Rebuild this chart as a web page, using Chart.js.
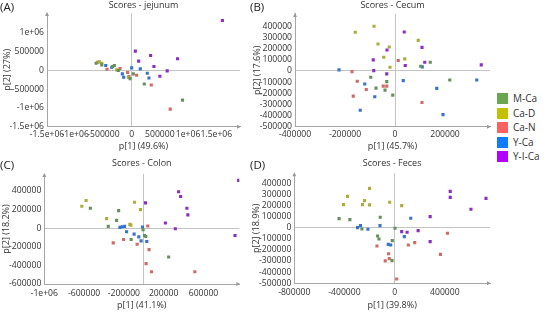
<!DOCTYPE html>
<html>
<head>
<meta charset="utf-8">
<script src="https://cdn.jsdelivr.net/npm/chart.js"></script>
<style>
body { margin: 0; background: #fff; font-family: "Open Sans", sans-serif; }
#wrap { position: relative; width: 546px; height: 312px; overflow: hidden; }
canvas { position: absolute; }
.tag { position: absolute; font-size: 11.5px; line-height: 13px; color: #222; }
.item { position: absolute; left: 497px; height: 11px; font-size: 10px; line-height: 11px; color: #333; white-space: nowrap; }
.sw { display: inline-block; width: 11px; height: 11px; vertical-align: top; margin-right: 5px; }
</style>
</head>
<body>
<div id="wrap">
	<canvas id="chartA" width="246" height="152" style="left:0px;top:0px"></canvas>
	<canvas id="chartB" width="244" height="152" style="left:250px;top:0px"></canvas>
	<canvas id="chartC" width="246" height="154" style="left:0px;top:158px"></canvas>
	<canvas id="chartD" width="244" height="154" style="left:250px;top:158px"></canvas>
	<div class="tag" style="left:0px;top:0px">(A)</div>
	<div class="tag" style="left:250px;top:0px">(B)</div>
	<div class="tag" style="left:0px;top:158px">(C)</div>
	<div class="tag" style="left:250px;top:158px">(D)</div>
	<div id="legend"></div>
</div>
<script>
var groups = ["M-Ca", "Ca-D", "Ca-N", "Y-Ca", "Y-I-Ca"];
var legendColors = ["#6aa64f", "#c3c000", "#fa6262", "#0f7bff", "#b300ff"];
var pointColors = ["#66905a", "#adac3a", "#d06a66", "#3772cc", "#8a2ec4"];

// jejunum scores [p1, p2]
var jejMCa = [[-630000,187000],[-530000,143000],[-336000,98000],[-306000,125000],[-236000,-9000],[-29000,-223000],[29000,-98000],[224000,-365000],[901000,-793000]];
var jejCaD = [[-601000,214000],[-571000,223000],[-530000,187000],[-265000,9000],[-59000,-187000]];
var jejCaN = [[-436000,27000],[-206000,45000],[-71000,-62000],[-47000,-169000],[88000,-134000],[348000,-392000],[683000,-1034000]];
var jejYCa = [[-459000,125000],[-353000,80000],[-165000,-98000],[-141000,-187000],[0,62000],[153000,36000],[277000,-80000],[306000,-205000]];
var jejYICa = [[65000,508000],[336000,392000],[124000,241000],[395000,98000],[813000,303000],[630000,-18000],[500000,-160000],[1608000,1319000]];

// cecum
var cecMCa = [[141000,78000],[103000,42000],[219000,-81000],[-97000,-57000],[-33000,-96000],[-76000,-154000],[-40000,-172000],[-9000,-217000]];
var cecCaD = [[-159000,346000],[-84000,400000],[-68000,241000],[-23000,214000],[-45000,123000],[-20000,33000],[39000,108000],[93000,274000]];
var cecCaN = [[13000,93000],[-172000,-6000],[-151000,-93000],[-115000,-166000],[-167000,-226000],[-47000,-136000],[-33000,-136000],[108000,-283000]];
var cecYCa = [[109000,36000],[327000,-81000],[167000,-157000],[192000,-392000],[33000,-87000],[-224000,9000],[-121000,-117000],[-139000,-352000],[-81000,-232000]];
var cecYICa = [[37000,349000],[108000,211000],[-32000,187000],[-87000,99000],[-85000,3000],[-33000,-27000],[119000,78000],[41000,48000],[345000,54000]];

// colon
var colMCa = [[-537000,213000],[-253000,187000],[-273000,83000],[-357000,18000],[-7000,-18000],[7000,-79000],[20000,-90000],[-127000,-123000],[250000,-310000]];
var colCaD = [[-623000,234000],[-580000,296000],[-373000,101000],[-93000,277000],[-33000,198000],[-140000,40000],[-130000,32000]];
var colCaN = [[40000,22000],[-203000,-123000],[-307000,-159000],[-67000,-173000],[53000,-231000],[23000,-382000],[77000,-469000],[513000,-469000]];
var colYCa = [[-240000,7000],[-217000,14000],[-193000,18000],[-173000,-40000],[-97000,-65000],[-50000,-94000],[-27000,-137000],[30000,-144000],[-13000,11000]];
var colYICa = [[17000,270000],[953000,512000],[350000,389000],[370000,339000],[433000,213000],[443000,141000],[217000,54000],[317000,-7000],[917000,-79000]];

// feces
var fecMCa = [[-443000,81000],[-357000,72000],[-115000,93000],[3000,-6000],[-261000,-12000],[-136000,-75000],[-125000,-102000],[-19000,-117000],[-21000,-296000]];
var fecCaD = [[-200000,353000],[-376000,281000],[-408000,207000],[-240000,243000],[-256000,207000],[-200000,204000],[-40000,228000],[56000,198000]];
var fecCaN = [[-141000,-165000],[-48000,-234000],[-43000,-278000],[-75000,-299000],[16000,-461000],[109000,-156000],[160000,-135000],[365000,-240000],[421000,-51000]];
var fecYCa = [[-296000,0],[-272000,18000],[-213000,-15000],[-117000,18000],[-51000,-150000],[-32000,-156000],[128000,84000],[77000,-81000]];
var fecYICa = [[443000,326000],[443000,272000],[728000,263000],[608000,165000],[283000,99000],[56000,-36000],[99000,-42000],[187000,-27000],[283000,-126000]];

// tick values
var jejXTicks = [-1500000,-1000000,-500000,0,500000,1000000,1500000];
var jejYTicks = [-1500000,-1000000,-500000,0,500000,1000000];
var cecXTicks = [-400000,-200000,0,200000];
var cecYTicks = [-500000,-400000,-300000,-200000,-100000,0,100000,200000,300000,400000];
var colXTicks = [-1000000,-600000,-200000,0,200000,600000];
var colYTicks = [-600000,-400000,-200000,0,200000,400000];
var fecXTicks = [-800000,-400000,0,400000];
var fecYTicks = [-500000,-400000,-300000,-200000,-100000,0,100000,200000,300000,400000];

function fmt(v) {
	if (Math.abs(v) >= 1000000) return (v / 1000000) + "e+06";
	return String(v);
}

var arrowPlugin = {
	id: "arrows",
	afterDraw: function(chart) {
		var a = chart.chartArea;
		var c = chart.ctx;
		c.save();
		c.fillStyle = "#999";
		c.beginPath();
		c.moveTo(a.left, a.top - 1);
		c.lineTo(a.left - 2, a.top + 3);
		c.lineTo(a.left + 2, a.top + 3);
		c.fill();
		c.beginPath();
		c.moveTo(a.right + 1, a.bottom);
		c.lineTo(a.right - 3, a.bottom - 2);
		c.lineTo(a.right - 3, a.bottom + 2);
		c.fill();
		c.restore();
	}
};

function makePanel(id, p) {
	var sets = [];
	for (var i = 0; i < groups.length; i++) {
		sets.push({
			label: groups[i],
			data: p.data[i].map(function(d){ return {x: d[0], y: d[1]}; }),
			pointStyle: "rect",
			pointRadius: 2.2,
			borderWidth: 0,
			backgroundColor: pointColors[i],
			borderColor: pointColors[i]
		});
	}
	var font = {family: "'Open Sans', sans-serif", size: 8.6};
	var zeroGrid = function(ctx) {
		return (ctx.tick && ctx.tick.value === 0) ? "#c4c4c4" : "rgba(0,0,0,0)";
	};
	new Chart(document.getElementById(id), {
		type: "scatter",
		data: {datasets: sets},
		plugins: [arrowPlugin],
		options: {
			responsive: false,
			animation: false,
			devicePixelRatio: 1,
			layout: {padding: {left: 0, right: p.padRight, top: 0, bottom: 0}},
			plugins: {
				legend: {display: false},
				tooltip: {enabled: false},
				title: {
					display: true,
					text: p.title,
					fullSize: false,
					color: "#333",
					font: {family: "'Open Sans', sans-serif", size: 9, weight: "normal"},
					padding: {top: 0.4, bottom: p.titleBottom}
				}
			},
			scales: {
				x: {
					type: "linear",
					min: p.xMin,
					max: p.xMax,
					afterBuildTicks: function(s){ s.ticks = p.xTicks.map(function(v){ return {value: v}; }); },
					afterFit: function(s){ s.height = p.xHeight; },
					ticks: {
						autoSkip: false, maxRotation: 0, minRotation: 0, padding: p.xTickPad,
						color: "#333", font: font,
						callback: function(v){ return (p.hideX0 && v === 0) ? "" : fmt(v); }
					},
					grid: {color: zeroGrid, drawTicks: false, lineWidth: 1},
					border: {color: "#a6a6a6", width: 1},
					title: {display: true, text: p.xTitle, color: "#333",
						font: {family: "'Open Sans', sans-serif", size: 9}, padding: {top: 0, bottom: p.xTitlePad}}
				},
				y: {
					type: "linear",
					min: p.yMin,
					max: p.yMax,
					afterBuildTicks: function(s){ s.ticks = p.yTicks.map(function(v){ return {value: v}; }); },
					afterFit: function(s){ s.width = p.yWidth; },
					ticks: {autoSkip: false, padding: 3, color: "#333", font: font, callback: function(v){ return fmt(v); }},
					grid: {color: zeroGrid, drawTicks: false, lineWidth: 1},
					border: {color: "#a6a6a6", width: 1},
					title: {display: true, text: p.yTitle, color: "#333",
						font: {family: "'Open Sans', sans-serif", size: 9}, padding: {top: p.yTitlePad, bottom: 0}}
				}
			}
		}
	});
}

makePanel("chartA", {
	title: "Scores - jejunum", xTitle: "p[1] (49.6%)", yTitle: "p[2] (27%)",
	xMin: -1500000, xMax: 1920000, yMin: -1500000, yMax: 1520000,
	xTicks: jejXTicks, yTicks: jejYTicks,
	data: [jejMCa, jejCaD, jejCaN, jejYCa, jejYICa],
	padRight: 6, titleBottom: 1.8, xHeight: 25.3, yWidth: 47, xTickPad: 3, xTitlePad: 0.5, yTitlePad: 2.3
});
makePanel("chartB", {
	title: "Scores - Cecum", xTitle: "p[1] (45.7%)", yTitle: "p[2] (17.6%)",
	xMin: -400000, xMax: 380000, yMin: -500000, yMax: 510000,
	xTicks: cecXTicks, yTicks: cecYTicks,
	data: [cecMCa, cecCaD, cecCaN, cecYCa, cecYICa],
	padRight: 4, titleBottom: 2.8, xHeight: 25.3, yWidth: 45, xTickPad: 3, xTitlePad: 0.5, yTitlePad: 2.3
});
makePanel("chartC", {
	title: "Scores - Colon", xTitle: "p[1] (41.1%)", yTitle: "p[2] (18.2%)",
	xMin: -1000000, xMax: 960000, yMin: -600000, yMax: 580000,
	xTicks: colXTicks, yTicks: colYTicks, hideX0: true,
	data: [colMCa, colCaD, colCaN, colYCa, colYICa],
	padRight: 6.7, titleBottom: 4.8, xHeight: 28, yWidth: 44.3, xTickPad: 4, xTitlePad: 1.2, yTitlePad: 1
});
makePanel("chartD", {
	title: "Scores - Feces", xTitle: "p[1] (39.8%)", yTitle: "p[2] (18.9%)",
	xMin: -800000, xMax: 760000, yMin: -500000, yMax: 488000,
	xTicks: fecXTicks, yTicks: fecYTicks,
	data: [fecMCa, fecCaD, fecCaN, fecYCa, fecYICa],
	padRight: 4, titleBottom: 4.1, xHeight: 28.7, yWidth: 44.3, xTickPad: 4, xTitlePad: 1.2, yTitlePad: 1
});

// shared legend
var legend = document.getElementById("legend");
for (var i = 0; i < groups.length; i++) {
	var item = document.createElement("div");
	item.className = "item";
	item.style.top = (93 + i * 14.5) + "px";
	item.innerHTML = '<span class="sw" style="background:' + legendColors[i] + '"></span>' + groups[i];
	legend.appendChild(item);
}
</script>
</body>
</html>
